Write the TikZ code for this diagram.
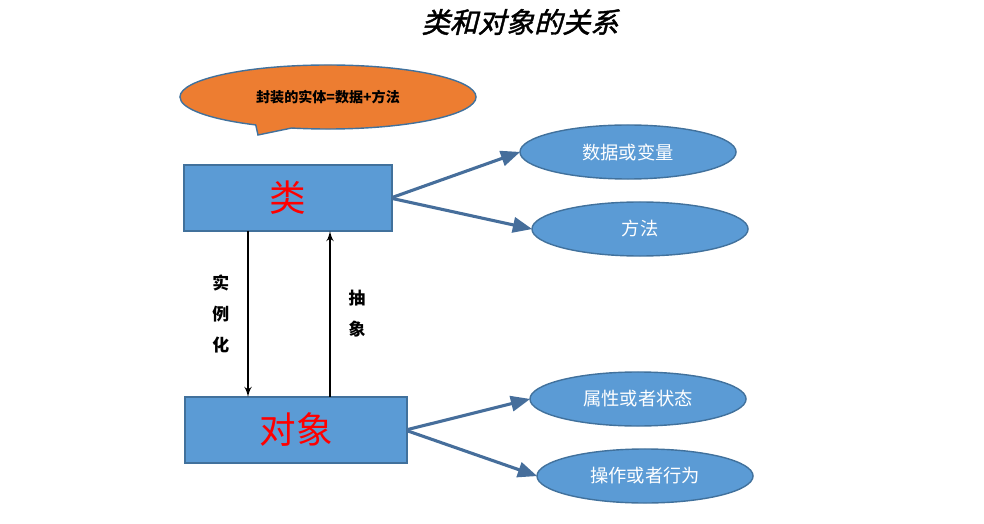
\documentclass[tikz,border=0pt]{standalone}
\usepackage{fontspec}
\newfontfamily\cjk{Noto Sans CJK SC}
\newfontfamily\cjkslant[FakeSlant=0.25,FakeBold=1.5]{Noto Sans CJK SC}
\usetikzlibrary{shapes,shapes.callouts,arrows,calc}
\definecolor{boxblue}{RGB}{91,155,213}
\definecolor{boxline}{RGB}{65,113,156}
\definecolor{arrblue}{RGB}{70,110,155}
\definecolor{callorange}{RGB}{237,125,49}
\tikzset{
  cls/.style={draw=boxline, fill=boxblue, line width=1pt, minimum height=1.65cm},
  item/.style={ellipse, draw=boxline, fill=boxblue, line width=1pt, minimum width=5.4cm, minimum height=1.35cm, text=white, font=\cjk\fontsize{13}{13}\selectfont},
  link/.style={->, >=triangle 45, draw=arrblue, line width=2.2pt},
}
\begin{document}
\begin{tikzpicture}[x=0.025cm, y=-0.025cm, outer sep=0pt]
\useasboundingbox (0,0) rectangle (984,524);

\node at (520, 22) (title) {\cjkslant\fontsize{20}{20}\selectfont 类和对象的关系};

\node[ellipse callout, draw=boxline, fill=callorange, line width=1pt, minimum width=7.4cm, minimum height=1.6cm,
      callout absolute pointer={(258,135)}] at (328, 97) (tip) {\cjk\bfseries\fontsize{10}{10}\selectfont 封装的实体=数据+方法};

\node[cls, minimum width=5.2cm] at (288, 198) (class) {\cjk\fontsize{26}{26}\selectfont\color{red}类};
\node[cls, minimum width=5.55cm] at (296, 430) (obj) {\cjk\fontsize{26}{26}\selectfont\color{red}对象};

\node[item] at (628, 152) (data) {数据或变量};
\node[item] at (640, 229) (meth) {方法};
\node[item] at (638, 399) (attr) {属性或者状态};
\node[item] at (645, 476) (oper) {操作或者行为};

    \draw [link] ($(class.east)+(0.1,-0.5)$) -- (data.west);
    \draw [link] ($(class.east)+(0.05,0.45)$) -- (meth.west);
    \draw [link] ($(obj.east)+(0,-0.3)$) -- (attr.west);
    \draw [link] ($(obj.east)+(0,0.7)$) -- (oper.west);

    \draw [->, >=latex', line width=1.5pt] ($(class.south)+(-40,0)$) to node[left=0.35cm, align=center, font=\cjk\bfseries\fontsize{12}{22}\selectfont] {实\\例\\化} ($(obj.north)+(-48,0)$);
    \draw [->, >=latex', line width=1.5pt] ($(obj.north)+(34,0)$) to node[right=0.35cm, align=center, font=\cjk\bfseries\fontsize{12}{22}\selectfont] {抽\\象} ($(class.south)+(42,0)$);
\end{tikzpicture}
\end{document}
